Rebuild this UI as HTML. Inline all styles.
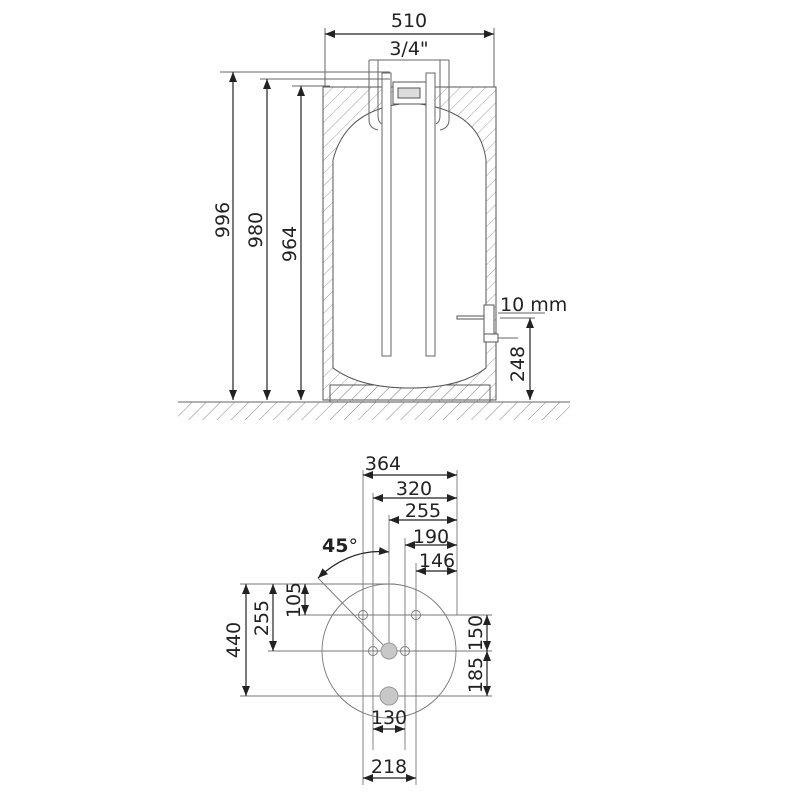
<!DOCTYPE html>
<html><head><meta charset="utf-8"><style>
html,body{margin:0;padding:0;background:#fff;}
svg{display:block;font-family:"DejaVu Sans","Liberation Sans",sans-serif;}
</style></head><body>
<svg width="800" height="800" viewBox="0 0 800 800" xmlns="http://www.w3.org/2000/svg">
<defs>
<marker id="a" viewBox="0 0 10 10" refX="10" refY="5" markerWidth="10" markerHeight="10" markerUnits="userSpaceOnUse" orient="auto-start-reverse"><path d="M0,1 L10,5 L0,9 z" fill="#222"/></marker>
<pattern id="h" width="9" height="9" patternUnits="userSpaceOnUse" patternTransform="rotate(45)"><line x1="0" y1="0" x2="0" y2="9" stroke="#888" stroke-width="0.8"/></pattern>
<pattern id="g" width="10" height="10" patternUnits="userSpaceOnUse" patternTransform="rotate(45)"><line x1="0" y1="0" x2="0" y2="10" stroke="#777" stroke-width="0.9"/></pattern>
</defs>
<g stroke="#666" stroke-width="1" fill="none">
<rect x="178" y="402" width="392" height="18" fill="url(#g)" stroke="none"/>
<line x1="178" y1="402" x2="570" y2="402"/>
<path d="M323,87 L496,87 L496,400 L323,400 Z" fill="url(#h)" stroke="#555"/>
<path d="M333,160 Q345,112 400,104 L420,104 Q480,112 486,160 L486,368 Q460,388 410,388 Q360,388 333,368 Z" fill="#fff" stroke="#555"/>
<rect x="393" y="82" width="33" height="22" fill="#fff" stroke="#555"/>
<rect x="398" y="88" width="22" height="10" fill="#ddd" stroke="#555"/>
<rect x="382" y="73" width="9" height="283" fill="#fff" stroke="#666"/>
<rect x="426" y="73" width="9" height="283" fill="#fff" stroke="#666"/>
<path d="M369,79 L369,120 Q369,128 378,130 M378,79 L378,116 Q378,122 382,124" />
<path d="M449,79 L449,120 Q449,128 440,130 M440,79 L440,116 Q440,122 436,124" />
<rect x="457" y="316" width="27" height="3" fill="#fff" stroke="#555"/>
<rect x="484" y="305" width="10" height="30" fill="#fff" stroke="#555"/>
<rect x="484" y="334" width="14" height="8" fill="#fff" stroke="#555"/>
<line x1="498" y1="338" x2="518" y2="338"/>
<rect x="330" y="385" width="160" height="17" fill="url(#h)" stroke="#555"/>
<path d="M333,368 Q360,388 410,388 Q460,388 486,368" fill="#fff" stroke="#555"/>
<line x1="220" y1="72" x2="390" y2="72"/>
<line x1="260" y1="79" x2="390" y2="79"/>
<line x1="292" y1="86" x2="330" y2="86"/>
<line x1="325" y1="28" x2="325" y2="87"/>
<line x1="494" y1="28" x2="494" y2="87"/>
<line x1="369" y1="60" x2="449" y2="60"/>
<line x1="369" y1="60" x2="369" y2="79"/>
<line x1="449" y1="60" x2="449" y2="79"/>
<line x1="378" y1="60" x2="378" y2="79"/>
<line x1="440" y1="60" x2="440" y2="79"/>
<line x1="500" y1="318" x2="535" y2="318"/>
<line x1="498" y1="313" x2="545" y2="313"/>
</g>
<g stroke="#222" stroke-width="1.2" fill="none">
<line x1="325" y1="34" x2="494" y2="34" marker-start="url(#a)" marker-end="url(#a)"/>
<line x1="233" y1="72" x2="233" y2="400" marker-start="url(#a)" marker-end="url(#a)"/>
<line x1="267" y1="79" x2="267" y2="400" marker-start="url(#a)" marker-end="url(#a)"/>
<line x1="301" y1="86" x2="301" y2="400" marker-start="url(#a)" marker-end="url(#a)"/>
<line x1="530" y1="318" x2="530" y2="400" marker-start="url(#a)" marker-end="url(#a)"/>
</g>
<g fill="#222" font-size="19">
<text x="409" y="27" text-anchor="middle">510</text>
<text x="409" y="55" text-anchor="middle">3/4"</text>
<text x="500" y="311">10 mm</text>
<text transform="translate(229,220) rotate(-90)" text-anchor="middle">996</text>
<text transform="translate(262,230) rotate(-90)" text-anchor="middle">980</text>
<text transform="translate(296,244) rotate(-90)" text-anchor="middle">964</text>
<text transform="translate(524,364) rotate(-90)" text-anchor="middle">248</text>
</g>
<g stroke="#777" stroke-width="0.9" fill="none">
<circle cx="389" cy="651" r="67"/>
<line x1="363" y1="470" x2="363" y2="785"/>
<line x1="373" y1="493" x2="373" y2="750"/>
<line x1="389" y1="515" x2="389" y2="651"/>
<line x1="405" y1="538" x2="405" y2="750"/>
<line x1="416" y1="563" x2="416" y2="785"/>
<line x1="457" y1="470" x2="457" y2="615"/>
<line x1="240" y1="584" x2="395" y2="584"/>
<line x1="300" y1="615" x2="492" y2="615"/>
<line x1="268" y1="651" x2="492" y2="651"/>
<line x1="240" y1="696" x2="492" y2="696"/>
<line x1="318" y1="578" x2="389" y2="651"/>
<circle cx="363" cy="615" r="4.5"/><circle cx="416" cy="615" r="4.5"/>
<circle cx="373" cy="651" r="4.5"/><circle cx="405" cy="651" r="4.5"/>
</g>
<circle cx="389" cy="651" r="8" fill="#c8c8c8" stroke="#999"/>
<circle cx="389" cy="696" r="9" fill="#c8c8c8" stroke="#999"/>
<g stroke="#222" stroke-width="1.2" fill="none">
<line x1="363" y1="475" x2="457" y2="475" marker-start="url(#a)" marker-end="url(#a)"/>
<line x1="373" y1="498" x2="457" y2="498" marker-start="url(#a)" marker-end="url(#a)"/>
<line x1="389" y1="520" x2="457" y2="520" marker-start="url(#a)" marker-end="url(#a)"/>
<line x1="405" y1="545" x2="457" y2="545" marker-start="url(#a)" marker-end="url(#a)"/>
<line x1="416" y1="571" x2="457" y2="571" marker-start="url(#a)" marker-end="url(#a)"/>
<line x1="246" y1="584" x2="246" y2="696" marker-start="url(#a)" marker-end="url(#a)"/>
<line x1="273" y1="584" x2="273" y2="651" marker-start="url(#a)" marker-end="url(#a)"/>
<line x1="305" y1="584" x2="305" y2="615" marker-start="url(#a)" marker-end="url(#a)"/>
<line x1="487" y1="615" x2="487" y2="651" marker-start="url(#a)" marker-end="url(#a)"/>
<line x1="487" y1="651" x2="487" y2="696" marker-start="url(#a)" marker-end="url(#a)"/>
<line x1="373" y1="729" x2="405" y2="729" marker-start="url(#a)" marker-end="url(#a)"/>
<line x1="363" y1="778" x2="416" y2="778" marker-start="url(#a)" marker-end="url(#a)"/>
<path d="M318,578 Q350,548 389,552" marker-start="url(#a)" marker-end="url(#a)"/>
</g>
<g fill="#222" font-size="19">
<text x="383" y="470" text-anchor="middle">364</text>
<text x="414" y="495" text-anchor="middle">320</text>
<text x="423" y="517" text-anchor="middle">255</text>
<text x="431" y="543" text-anchor="middle">190</text>
<text x="437" y="567" text-anchor="middle">146</text>
<text x="389" y="724" text-anchor="middle">130</text>
<text x="389" y="773" text-anchor="middle">218</text>
<text x="340" y="552" text-anchor="middle" font-weight="bold">45<tspan font-weight="normal">°</tspan></text>
<text transform="translate(240,640) rotate(-90)" text-anchor="middle">440</text>
<text transform="translate(268,618) rotate(-90)" text-anchor="middle">255</text>
<text transform="translate(300,600) rotate(-90)" text-anchor="middle">105</text>
<text transform="translate(482,633) rotate(-90)" text-anchor="middle">150</text>
<text transform="translate(482,675) rotate(-90)" text-anchor="middle">185</text>
</g>
</svg>
</body></html>
